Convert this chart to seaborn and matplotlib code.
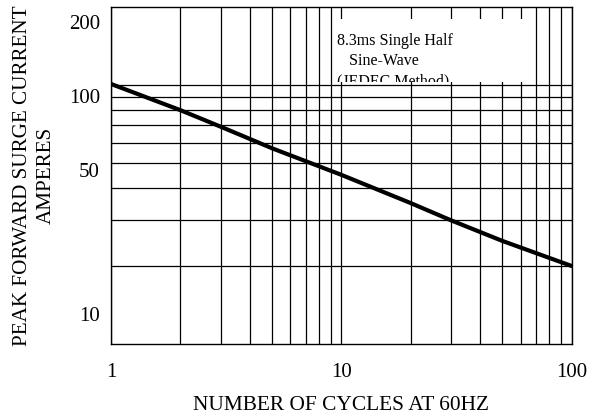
import numpy as np
import pandas as pd
import matplotlib
matplotlib.use("Agg")
import matplotlib.pyplot as plt
import matplotlib.patches as mpatches
import seaborn as sns

# values
cycles = [1, 2, 3, 5, 10, 20, 30, 50, 100]
surge_amps = [101, 80, 69, 57, 45, 35, 30, 25, 20]

x_major = [1, 10, 100]
x_minor = [2, 3, 4, 5, 6, 7, 8, 9, 20, 30, 40, 50, 60, 70, 80, 90]
y_grid = [20, 30, 40, 50, 60, 70, 80, 90, 100]
# tick labels sit a bit off their gridlines in the original datasheet
y_label_pos = [13, 47, 91, 176]
y_label_txt = ["10", "50", "100", "200"]

note_lines = ["8.3ms Single Half", "   Sine-Wave", "(JEDEC Method)"]


def make_plot():
    sns.set_theme(style="white")
    plt.rcParams["font.family"] = ["Liberation Serif", "DejaVu Serif"]

    df = pd.DataFrame({"cycles": cycles, "amps": surge_amps})

    fig = plt.figure(figsize=(5.95, 4.2), dpi=100)
    ax = fig.add_axes([0.1866, 0.181, 0.7744, 0.802])

    ax.set_xscale("log")
    ax.set_yscale("log")
    ax.set_xlim(1, 100)
    ax.set_ylim(10, 200)

    ax.set_xticks(x_major)
    ax.set_xticklabels([str(v) for v in x_major])
    ax.set_xticks(x_minor, minor=True)
    ax.set_yticks(y_label_pos)
    ax.set_yticklabels(y_label_txt)
    ax.set_yticks(y_grid, minor=True)
    ax.yaxis.set_minor_formatter(matplotlib.ticker.NullFormatter())
    ax.xaxis.set_minor_formatter(matplotlib.ticker.NullFormatter())

    ax.tick_params(which="both", length=0, labelsize=15, colors="black")
    ax.tick_params(axis="x", pad=14)
    ax.tick_params(axis="y", pad=8)

    ax.grid(False)
    ax.xaxis.grid(True, which="both", color="black", linewidth=0.9)
    ax.yaxis.grid(True, which="minor", color="black", linewidth=0.9)
    ax.set_axisbelow(True)

    for s in ax.spines.values():
        s.set_color("black")
        s.set_linewidth(1.0)

    sns.lineplot(data=df, x="cycles", y="amps", color="black", linewidth=3.0, ax=ax, zorder=5)

    # white note box covering the grid, text clipped at its bottom edge
    box = mpatches.Rectangle((0.484, 0.778), 0.422, 0.186, transform=ax.transAxes,
                             facecolor="white", edgecolor="none", zorder=3)
    ax.add_patch(box)
    for i, line in enumerate(note_lines):
        t = ax.text(0.491, 0.899 - i * 0.0595, line, transform=ax.transAxes, fontsize=11.5,
                    ha="left", va="center", color="black", zorder=4, clip_on=True)
        t.set_clip_path(box)

    ax.set_xlabel("NUMBER OF CYCLES AT 60HZ", fontsize=15.4, labelpad=10, color="black")
    ax.set_ylabel("PEAK FORWARD SURGE CURRENT\nAMPERES", fontsize=15.2, labelpad=9,
                  color="black", linespacing=1.35)

    fig.savefig("out.png", dpi=100)
    plt.close(fig)


if __name__ == "__main__":
    make_plot()
